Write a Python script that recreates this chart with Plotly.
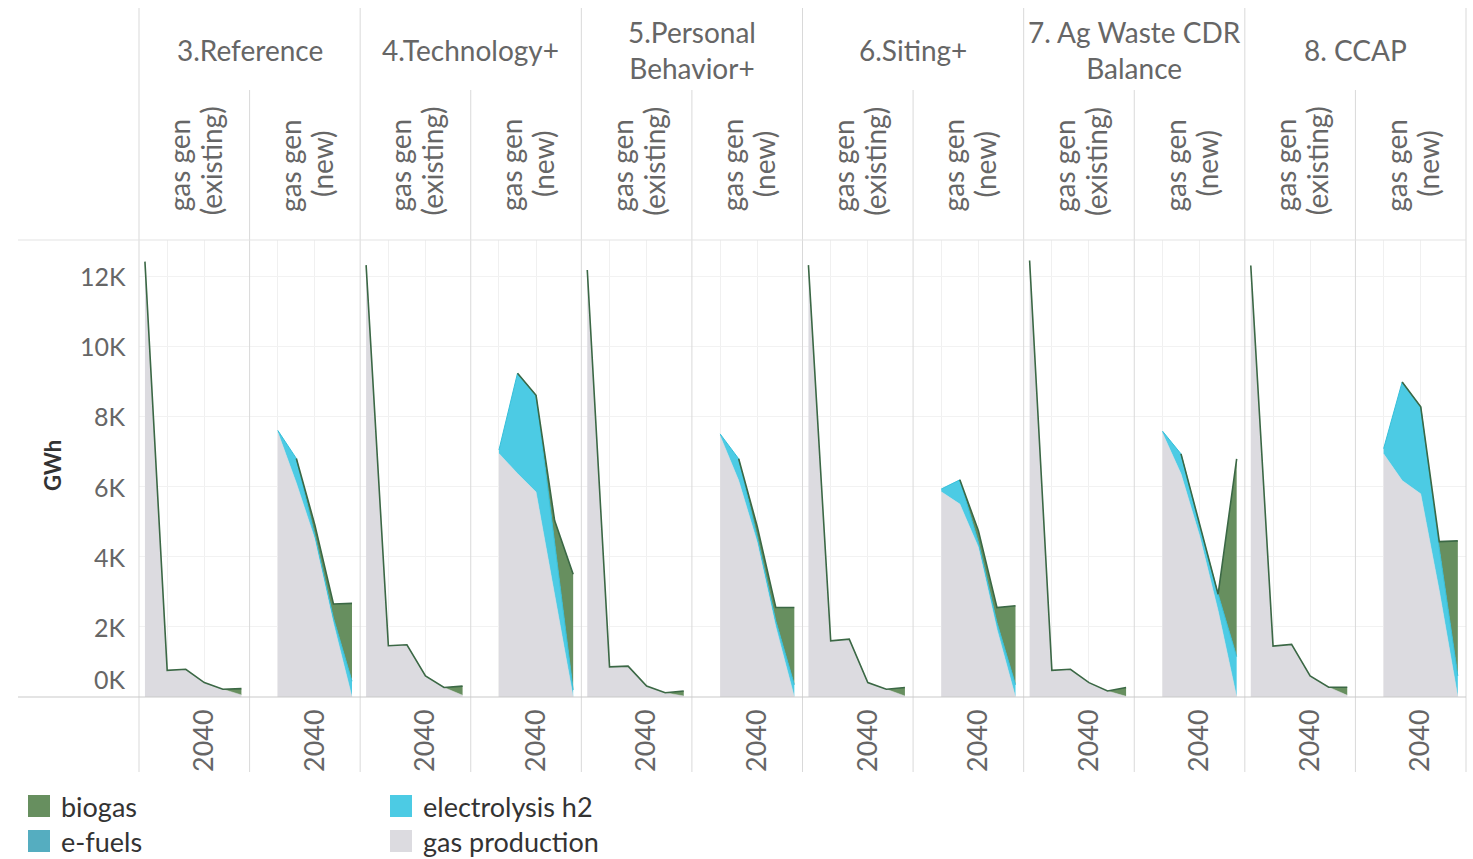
import numpy as np
import plotly.graph_objects as go

# ---- data (GWh) ----
scenarios = ["3.Reference", "4.Technology+", "5.Personal<br>Behavior+",
             "6.Siting+", "7. Ag Waste CDR<br>Balance", "8. CCAP"]
sub_column_lines = [("gas gen", "(existing)"), ("gas gen", "(new)")]

years_existing = [2024, 2030, 2035, 2040, 2045, 2050]
years_new = [2030, 2035, 2040, 2045, 2050]

# existing gas generation
existing_gas_production = [
    [12410, 760, 790, 410, 220, 60],
    [12310, 1460, 1490, 600, 270, 50],
    [12170, 860, 880, 310, 120, 30],
    [12310, 1600, 1650, 410, 220, 30],
    [12440, 760, 790, 410, 170, 20],
    [12300, 1450, 1500, 600, 280, 50],
]
existing_biogas = [
    [0, 0, 0, 0, 0, 180],
    [0, 0, 0, 0, 0, 260],
    [0, 0, 0, 0, 0, 140],
    [0, 0, 0, 0, 0, 240],
    [0, 0, 0, 0, 0, 250],
    [0, 0, 0, 0, 0, 230],
]

# new gas generation
new_gas_production = [
    [7550, 6100, 4500, 2100, 0],
    [6940, 6370, 5840, 2950, 0],
    [7450, 6170, 4410, 2000, 0],
    [5850, 5500, 4270, 1930, 0],
    [7530, 6360, 4600, 2460, 0],
    [6930, 6170, 5790, 3030, 0],
]
new_electrolysis_h2 = [
    [50, 700, 100, 150, 450],
    [100, 2860, 2760, 1420, 200],
    [50, 620, 150, 170, 350],
    [80, 690, 140, 190, 350],
    [50, 570, 300, 470, 1150],
    [150, 2810, 2480, 1200, 600],
]
new_biogas = [
    [0, 0, 300, 400, 2220],
    [0, 0, 0, 660, 3300],
    [0, 0, 300, 380, 2200],
    [0, 0, 330, 430, 2250],
    [0, 0, 0, 0, 5640],
    [0, 0, 0, 200, 3850],
]

y_ticks = [0, 2000, 4000, 6000, 8000, 10000, 12000]
y_tick_text = ["0K", "2K", "4K", "6K", "8K", "10K", "12K"]

legend_items = ["biogas", "e-fuels", "electrolysis h2", "gas production"]

# ---- styling ----
COLORS = {
    "biogas": "#678f5f",
    "e-fuels": "#55adc0",
    "electrolysis h2": "#4ccbe4",
    "gas production": "#dcdbe0",
}
OUTLINE = "#3b6845"
FONT = "Lato"
TXT = "#666666"
W, H = 1473, 859

PLOT_L, PLOT_R = 139, 1466
PLOT_T, PLOT_B = 240, 697
panel_w = (PLOT_R - PLOT_L) / 12
X_RANGE = [2022.4, 2052.2]
Y_TOP = (PLOT_B - PLOT_T) / ((PLOT_B - 276) / 12000.0)


def px(x):
    return x / W


def py(y):
    return 1 - y / H


fig = go.Figure()
layout = dict()

for s in range(len(scenarios)):
    for k in range(2):
        idx = s * 2 + k
        ax = "" if idx == 0 else str(idx + 1)
        xname, xref = "xaxis" + ax, "x" + ax
        x0 = PLOT_L + idx * panel_w
        layout[xname] = dict(
            domain=[px(x0), px(x0 + panel_w)], range=X_RANGE, anchor="y",
            tickvals=[2030, 2040], ticktext=["", "2040"], tickangle=-90,
            ticks="", showgrid=True, gridcolor="#f0f0f0", gridwidth=1,
            zeroline=False, showline=False, fixedrange=True,
            tickfont=dict(family=FONT, size=27, color=TXT),
            ticklabelstandoff=6,
        )
        grp = f"g{idx}"
        if k == 0:
            yrs = years_existing
            gas = np.array(existing_gas_production[s], float)
            h2 = np.zeros(len(yrs))
            bio = np.array(existing_biogas[s], float)
            start = 0
        else:
            yrs = years_new
            gas = np.array(new_gas_production[s], float)
            h2 = np.array(new_electrolysis_h2[s], float)
            bio = np.array(new_biogas[s], float)
            start = 1
        fig.add_trace(go.Scatter(
            x=yrs, y=gas, xaxis=xref, yaxis="y", stackgroup=grp,
            mode="lines", line=dict(width=0.5, color=COLORS["gas production"]),
            fillcolor=COLORS["gas production"], name="gas production",
            showlegend=False, hoverinfo="skip"))
        if k == 1:
            fig.add_trace(go.Scatter(
                x=yrs, y=h2, xaxis=xref, yaxis="y", stackgroup=grp,
                mode="lines", line=dict(width=1, color="#36bfd9"),
                fillcolor=COLORS["electrolysis h2"], name="electrolysis h2",
                showlegend=False, hoverinfo="skip"))
        fig.add_trace(go.Scatter(
            x=yrs, y=bio, xaxis=xref, yaxis="y", stackgroup=grp,
            mode="lines", line=dict(width=0, color=COLORS["biogas"]),
            fillcolor=COLORS["biogas"], name="biogas",
            showlegend=False, hoverinfo="skip"))
        total = gas + h2 + bio
        fig.add_trace(go.Scatter(
            x=yrs[start:], y=total[start:], xaxis=xref, yaxis="y",
            mode="lines", line=dict(width=1.6, color=OUTLINE),
            showlegend=False, hoverinfo="skip"))

layout["yaxis"] = dict(
    domain=[py(PLOT_B), py(PLOT_T)], range=[0, Y_TOP], tickvals=y_ticks,
    showticklabels=False, ticks="", showgrid=True, gridcolor="#f2f2f2",
    zeroline=False, showline=False, fixedrange=True, anchor="x",
)

shapes = []
line_c = "#d9d9d9"
# scenario column dividers
for s in range(len(scenarios) + 1):
    x = PLOT_L + s * 2 * panel_w
    shapes.append(dict(type="line", xref="paper", yref="paper",
                       x0=px(x), x1=px(x), y0=py(8), y1=py(772),
                       line=dict(color=line_c, width=1)))
# sub-column dividers
for s in range(len(scenarios)):
    x = PLOT_L + (s * 2 + 1) * panel_w
    shapes.append(dict(type="line", xref="paper", yref="paper",
                       x0=px(x), x1=px(x), y0=py(90), y1=py(772),
                       line=dict(color=line_c, width=1)))
# top and baseline rules
shapes.append(dict(type="line", xref="paper", yref="paper",
                   x0=px(18), x1=px(PLOT_R), y0=py(PLOT_T), y1=py(PLOT_T),
                   line=dict(color="#e3e3e3", width=1)))
shapes.append(dict(type="line", xref="paper", yref="paper",
                   x0=px(18), x1=px(PLOT_R), y0=py(PLOT_B), y1=py(PLOT_B),
                   line=dict(color="#c9c9c9", width=1)))

annotations = []
for s, name in enumerate(scenarios):
    cx = PLOT_L + (s * 2 + 1) * panel_w
    annotations.append(dict(
        text=name, xref="paper", yref="paper", x=px(cx), y=py(50),
        showarrow=False, xanchor="center", yanchor="middle",
        font=dict(family=FONT, size=28, color=TXT)))
    for k in range(2):
        cx2 = PLOT_L + (s * 2 + k + 0.5) * panel_w
        first, second = sub_column_lines[k]
        annotations.append(dict(
            text=first, xref="paper", yref="paper", x=px(cx2 - 15),
            y=py(165), showarrow=False, textangle=-90,
            xanchor="center", yanchor="middle",
            font=dict(family=FONT, size=28, color=TXT)))
        annotations.append(dict(
            text=second, xref="paper", yref="paper", x=px(cx2 + 17),
            y=py(161 if k == 0 else 164), showarrow=False, textangle=-90,
            xanchor="center", yanchor="middle",
            font=dict(family=FONT, size=28, color=TXT)))

# value axis labels
for v, t in zip(y_ticks, y_tick_text):
    annotations.append(dict(
        text=t, xref="paper", yref="y", x=px(128), y=v, showarrow=False,
        xanchor="right", yanchor="middle", yshift=18 if v == 0 else 0,
        font=dict(family=FONT, size=25, color=TXT)))
annotations.append(dict(
    text="<b>GWh</b>", xref="paper", yref="paper", x=px(52), y=py(466),
    showarrow=False, textangle=-90, xanchor="center", yanchor="middle",
    font=dict(family=FONT, size=22, color="#333333")))

# colour key
key_pos = [(28, 806), (28, 841), (390, 806), (390, 841)]
for name, (kx, ky) in zip(legend_items, key_pos):
    shapes.append(dict(type="rect", xref="paper", yref="paper",
                       x0=px(kx), x1=px(kx + 22), y0=py(ky - 11), y1=py(ky + 11),
                       fillcolor=COLORS[name], line=dict(width=0)))
    annotations.append(dict(
        text=name, xref="paper", yref="paper", x=px(kx + 31), y=py(ky),
        showarrow=False, xanchor="left", yanchor="middle",
        font=dict(family=FONT, size=27, color="#333333")))

fig.update_layout(
    width=W, height=H, margin=dict(l=0, r=0, t=0, b=0),
    paper_bgcolor="white", plot_bgcolor="white",
    shapes=shapes, annotations=annotations, showlegend=False,
    **layout,
)

fig.write_html("out.html")
